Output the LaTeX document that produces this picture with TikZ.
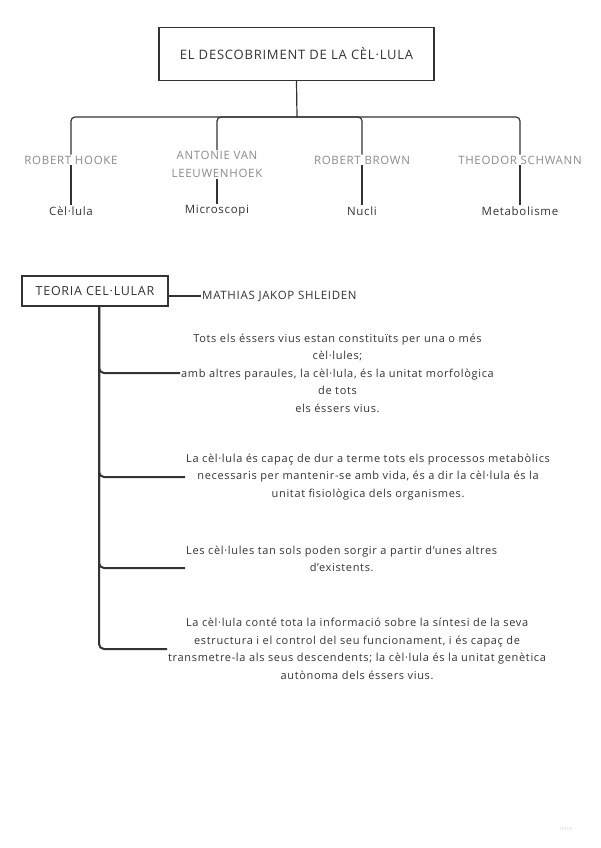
\documentclass[tikz,border=0pt]{standalone}
\usepackage{fontspec}
\setmainfont{Open Sans}[LetterSpace=6]
\usetikzlibrary{positioning}

\definecolor{inkgray}{HTML}{333333}
\definecolor{namegray}{HTML}{8A8A8A}

\begin{document}
\begin{tikzpicture}[
    x=1pt, y=-1pt,
    titlebox/.style={draw=inkgray, line width=1.3pt, minimum width=275pt,
                minimum height=53pt, font=\fontsize{13}{15}\selectfont, text=inkgray},
    theorybox/.style={draw=inkgray, line width=1.3pt, minimum width=146pt,
                minimum height=30pt, font=\fontsize{12.5}{15}\selectfont, text=inkgray},
    person/.style={align=center, inner sep=1pt, text=namegray,
                font=\fontsize{11.5}{18}\selectfont},
    finding/.style={inner sep=1pt, text=inkgray, font=\fontsize{11.5}{14}\selectfont},
    statement/.style={align=center, inner sep=1pt, text=inkgray,
                font=\fontsize{11}{17.5}\selectfont},
    link/.style={draw=inkgray, line width=1.2pt, rounded corners=4pt},
    spine/.style={draw=inkgray, line width=2pt, rounded corners=5pt}
]
\useasboundingbox (0,0) rectangle (600,848);

% descobriment
\node[titlebox] (title) at (296.5,54) {EL DESCOBRIMENT DE LA CÈL·LULA};
\coordinate (fork) at (297,117);

\node[person] (hooke) at (71,160) {ROBERT HOOKE};
\node[person, anchor=north] (leeuwen) at (217,150) {ANTONIE VAN\\LEEUWENHOEK};
\node[person] (brown) at (362,160) {ROBERT BROWN};
\node[person] (schwann) at (520,160) {THEODOR SCHWANN};

\node[finding] (cell) at (71,211) {Cèl·lula};
\node[finding] (micro) at (217,211) {Microscopi};
\node[finding] (nucli) at (362,211) {Nucli};
\node[finding] (metab) at (520,211) {Metabolisme};

\draw[link] (title.south) -- (fork);
\foreach \who in {hooke,leeuwen,brown,schwann}
    \draw[link] (fork) -| (\who.north);
\draw[link] (hooke.south) -- (cell.north);
\draw[link] (leeuwen.south) -- (micro.north);
\draw[link] (brown.south) -- (nucli.north);
\draw[link] (schwann.south) -- (metab.north);

% teoria cel.lular
\node[theorybox] (theory) at (95,291) {TEORIA CEL·LULAR};
\node[finding, anchor=west] (shleiden) at (201,296) {MATHIAS JAKOP SHLEIDEN};
\draw[link, line width=1.5pt] (theory.east |- shleiden.west) -- (shleiden.west);

\node[statement, anchor=west] (law1) at (180,373)
    {Tots els éssers vius estan constituïts per una o més\\
     cèl·lules;\\
     amb altres paraules, la cèl·lula, és la unitat morfològica\\
     de tots\\
     els éssers vius.};
\node[statement, anchor=west] (law2) at (185,477)
    {La cèl·lula és capaç de dur a terme tots els processos metabòlics\\
     necessaris per mantenir-se amb vida, és a dir la cèl·lula és la\\
     unitat fisiològica dels organismes.};
\node[statement, anchor=west] (law3) at (185,559)
    {Les cèl·lules tan sols poden sorgir a partir d'unes altres\\
     d'existents.};
\node[statement, anchor=west] (law4) at (167,649)
    {La cèl·lula conté tota la informació sobre la síntesi de la seva\\
     estructura i el control del seu funcionament, i és capaç de\\
     transmetre-la als seus descendents; la cèl·lula és la unitat genètica\\
     autònoma dels éssers vius.};

\draw[spine] ([xshift=4pt]theory.south) |- (law1.west);
\draw[spine] ([xshift=4pt]theory.south) |- (law2.west);
\draw[spine] ([xshift=4pt]theory.south) |- ([yshift=-9pt]law3.west);
\draw[spine] ([xshift=4pt]theory.south) |- (law4.west);

\node[text=black!20, font=\fontsize{5}{6}\selectfont] (brand) at (566,829) {miro};

\end{tikzpicture}
\end{document}
